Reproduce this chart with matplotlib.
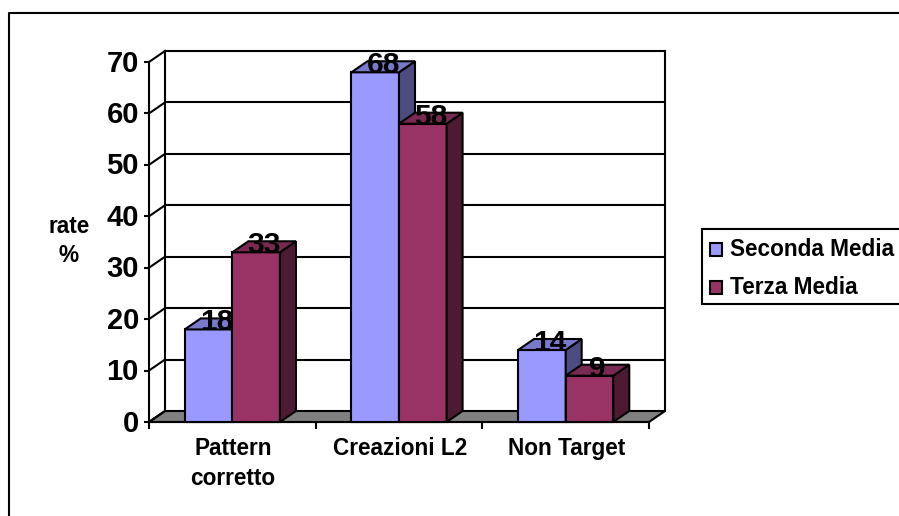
import matplotlib
matplotlib.use("Agg")
import matplotlib.pyplot as plt
from matplotlib.patches import Polygon, Rectangle

categories = ["Pattern\ncorretto", "Creazioni L2", "Non Target"]
series_names = ["Seconda Media", "Terza Media"]
seconda_media = [18, 68, 14]
terza_media = [33, 58, 9]
y_ticks = [0, 10, 20, 30, 40, 50, 60, 70]

FRONT = ["#9999ff", "#993366"]
TOP = ["#7a7acc", "#7a2952"]
SIDE = ["#4c4c80", "#4d1a33"]
WALL_DX = 16 / 166.67   # depth of the fake 3D box, in category units
WALL_DY = 11 / 5.14     # same, in value units
BAR_W = 47.6 / 166.67

plt.rcParams["font.family"] = ["Liberation Sans", "DejaVu Sans"]
plt.rcParams["font.weight"] = "bold"

W, H = 899, 516
fig = plt.figure(figsize=(W / 100, H / 100), dpi=100)
fig.patch.set_facecolor("white")

# outer frame, only the top and left sides are visible
fig.add_artist(plt.Line2D([9 / W, 9 / W, 1], [0, 1 - 13 / H, 1 - 13 / H], color="black", lw=1.5))

ax = fig.add_axes([149 / W, 1 - 422 / H, 500 / W, 360 / H])
ax.set_xlim(0, 3)
ax.set_ylim(0, 70)
ax.axis("off")


def draw_box(x0, x1, value, colors):
    # front face, side face and top face of one column
    faces = [
        ([(x0, 0), (x1, 0), (x1, value), (x0, value)], colors[0]),
        ([(x1, 0), (x1 + WALL_DX, WALL_DY), (x1 + WALL_DX, value + WALL_DY), (x1, value)], colors[2]),
        ([(x0, value), (x1, value), (x1 + WALL_DX, value + WALL_DY), (x0 + WALL_DX, value + WALL_DY)], colors[1]),
    ]
    for pts, col in faces:
        ax.add_patch(Polygon(pts, closed=True, facecolor=col, edgecolor="black", lw=1.5,
                             joinstyle="miter", clip_on=False, zorder=3))


# floor
ax.add_patch(Polygon([(0, 0), (3, 0), (3 + WALL_DX, WALL_DY), (WALL_DX, WALL_DY)], closed=True,
                     facecolor="#808080", edgecolor="black", lw=1.5, clip_on=False, zorder=1))

# back wall gridlines and the slanted ticks running to them
for t in y_ticks:
    if t > 0:
        ax.plot([WALL_DX, 3 + WALL_DX], [t + WALL_DY, t + WALL_DY], color="black", lw=1.5,
                clip_on=False, zorder=1, solid_capstyle="butt")
    ax.plot([0, WALL_DX], [t, t + WALL_DY], color="black", lw=1.5, clip_on=False, zorder=1)
    ax.plot([-0.03, 0], [t, t], color="black", lw=1.5, clip_on=False, zorder=2, solid_capstyle="butt")
    ax.text(-0.06, t - 0.3, str(t), ha="right", va="center", fontsize=21, zorder=5)

ax.plot([WALL_DX, WALL_DX], [WALL_DY, 70 + WALL_DY], color="black", lw=1.5, clip_on=False, zorder=1)
ax.plot([3 + WALL_DX, 3 + WALL_DX], [WALL_DY, 70 + WALL_DY], color="black", lw=1.5, clip_on=False, zorder=1)

# front axis lines
ax.plot([0, 0], [0, 70], color="black", lw=1.5, clip_on=False, zorder=2)
ax.plot([0, 3], [0, 0], color="black", lw=1.5, clip_on=False, zorder=2)
for i in range(4):
    ax.plot([i, i], [0, -1.4], color="black", lw=1.5, clip_on=False, zorder=2, solid_capstyle="butt")

# columns and their value labels
for i, name in enumerate(categories):
    centre = i + 0.5
    draw_box(centre - BAR_W, centre, seconda_media[i], (FRONT[0], TOP[0], SIDE[0]))
    draw_box(centre, centre + BAR_W, terza_media[i], (FRONT[1], TOP[1], SIDE[1]))
    ax.text(centre + 0.005, -3.0, name, ha="center", va="top", fontsize=16.3, linespacing=1.38, zorder=5)
    ax.text(centre - BAR_W / 2 + WALL_DX / 2, seconda_media[i] - 0.2, str(seconda_media[i]),
            ha="center", va="baseline", fontsize=21.5, zorder=6)
    ax.text(centre + BAR_W / 2 + WALL_DX / 2, terza_media[i] - 0.2, str(terza_media[i]),
            ha="center", va="baseline", fontsize=21.5, zorder=6)

# axis title
fig.text(69 / W, 1 - 241 / H, "rate\n%", ha="center", va="center", fontsize=16.3, linespacing=1.28)

# legend box, running off the right edge
fig.add_artist(Rectangle((701.5 / W, 1 - 303.5 / H), 220 / W, 75 / H, transform=fig.transFigure,
                         facecolor="white", edgecolor="black", lw=1.5))
for y, name, col in zip([250, 287.5], series_names, FRONT):
    fig.add_artist(Rectangle((709.5 / W, 1 - (y + 6) / H), 12.5 / W, 12.5 / H, transform=fig.transFigure,
                             facecolor=col, edgecolor="black", lw=1.5))
    fig.text(730 / W, 1 - y / H, name, ha="left", va="center", fontsize=16.3)

fig.savefig("out.png", dpi=100)
